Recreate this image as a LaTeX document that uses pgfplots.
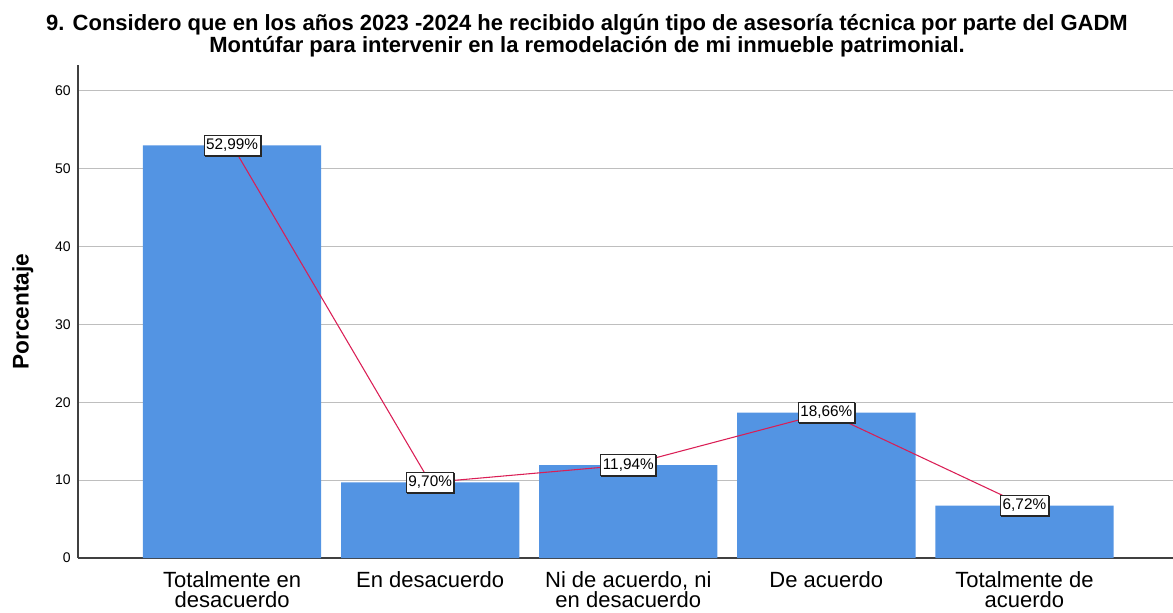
\documentclass[border=0pt]{standalone}
\usepackage{pgfplots}
\pgfplotsset{compat=1.18}
\usetikzlibrary{shadows}
\usepackage{fontspec}
\setmainfont{Liberation Sans}
\definecolor{barblue}{RGB}{83,148,227}
\definecolor{linered}{RGB}{218,30,85}
\definecolor{gridgray}{RGB}{190,190,190}
\begin{document}
\begin{tikzpicture}
\path[use as bounding box] (-58.5pt,-40.5pt) rectangle (821.25pt,418.5pt);
\begin{axis}[
  at={(0,0)}, anchor=south west,
  scale only axis,
  width=821.25pt, height=369.75pt,
  xmin=-0.778, xmax=4.75,
  ymin=0, ymax=63.3,
  axis x line*=bottom, axis y line*=left,
  axis line style={draw=black!75, line width=0.8pt},
  ytick={0,10,20,30,40,50,60},
  xtick={0,1,2,3,4},
  xticklabels={{Totalmente en\\desacuerdo},{En desacuerdo},{Ni de acuerdo, ni\\en desacuerdo},{De acuerdo},{Totalmente de\\acuerdo}},
  xticklabel style={align=center, font=\fontsize{16.5}{15}\selectfont, yshift=-7pt},
  yticklabel style={font=\fontsize{10.5}{12}\selectfont, xshift=-2pt},
  /pgf/number format/assume math mode=true,
  major tick length=0pt,
  ymajorgrids,
  grid style={gridgray, line width=0.8pt},
  ylabel={\bfseries Porcentaje},
  ylabel style={font=\fontsize{17}{18}\selectfont, at={(axis description cs:-0.0505,0.5)}, anchor=center, rotate=0},
  clip=false,
]
\addplot[ybar, bar width=0.9, fill=barblue, draw=none] coordinates {
  (0,52.99) (1,9.70) (2,11.94) (3,18.66) (4,6.72)
};
\addplot[linered, line width=0.8pt, mark=none,
  point meta=explicit symbolic,
  nodes near coords,
  every node near coord/.append style={anchor=center, fill=white, draw=black!85, text=black, line width=0.8pt, font=\fontsize{11.5}{13}\selectfont, inner xsep=1.5pt, inner ysep=2.3pt, text height=8.5pt, text depth=2.3pt, drop shadow={shadow xshift=0.7pt, shadow yshift=-0.7pt, fill=black!55, opacity=1}},
] coordinates {
  (0,52.99) [52,99\%]
  (1,9.70) [9,70\%]
  (2,11.94) [11,94\%]
  (3,18.66) [18,66\%]
  (4,6.72) [6,72\%]
};
\end{axis}
\node[anchor=base, align=center, inner sep=0pt, font=\bfseries\fontsize{16.5}{15}\selectfont] at (381.75pt,378.75pt)
  {9. Considero que en los años 2023 -2024 he recibido algún tipo de asesoría técnica por parte del GADM\\Montúfar para intervenir en la remodelación de mi inmueble patrimonial.};
\end{tikzpicture}
\end{document}
